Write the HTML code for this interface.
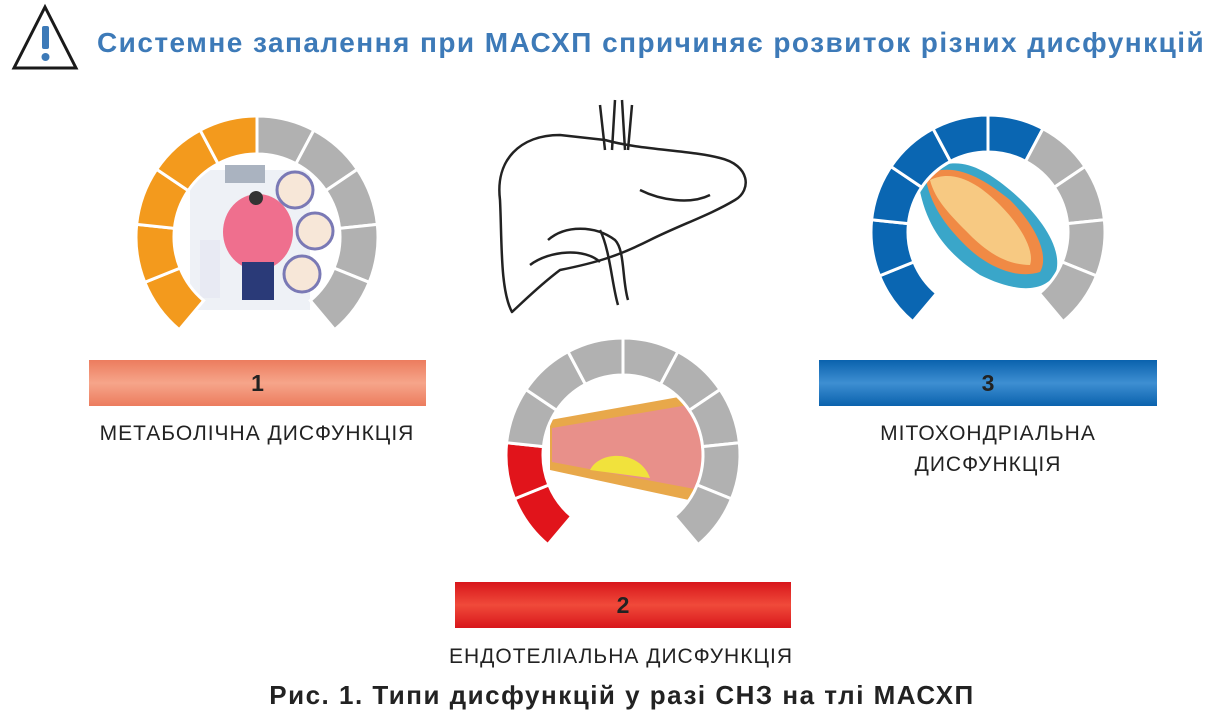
<!DOCTYPE html>
<html><head><meta charset="utf-8"><style>
body{margin:0;width:1214px;height:719px;background:#fff;overflow:hidden;font-family:"Liberation Sans",sans-serif;position:relative}
.t{position:absolute;white-space:nowrap}
.bar{position:absolute;height:46px;text-align:center;line-height:46px;font-weight:bold;font-size:23px;color:#222}
.lbl{position:absolute;text-align:center;font-size:21px;color:#222;line-height:31px;letter-spacing:1px}
</style></head><body>
<svg width="1214" height="719" style="position:absolute;left:0;top:0" id="s">
<polygon points="45,7 14,68 76,68" fill="none" stroke="#1a1a1a" stroke-width="3" stroke-linejoin="miter"/>
<rect x="42" y="26" width="7" height="23" fill="#3d7ab8" rx="2"/>
<circle cx="45.5" cy="57" r="4" fill="#3d7ab8"/>
<g fill="none" stroke="#222" stroke-width="2.5" stroke-linejoin="round">
<path d="M500,200 C495,160 520,135 560,135 L605,140 C640,150 690,150 720,158 C750,165 752,190 735,200 C710,215 680,225 650,240 C620,255 600,262 560,270 C540,285 525,300 512,312 C500,290 502,240 500,200 Z"/>
<path d="M600,105 L605,150 M615,100 L612,150 M622,100 L625,150 M632,105 L628,150"/>
<path d="M548,240 C565,225 595,225 615,240 C625,250 622,280 628,300 M600,230 C610,250 612,285 618,305 M530,265 C550,250 585,248 600,262"/>
<path d="M640,190 C660,200 690,205 710,195"/>
</g>
<rect x="190" y="170" width="120" height="140" fill="#eef1f6"/>
<rect x="225" y="165" width="40" height="18" fill="#aab3c0"/>
<circle cx="295" cy="190" r="18" fill="#f7e7d8" stroke="#7a79b5" stroke-width="3"/>
<circle cx="315" cy="231" r="18" fill="#f7e7d8" stroke="#7a79b5" stroke-width="3"/>
<circle cx="302" cy="274" r="18" fill="#f7e7d8" stroke="#7a79b5" stroke-width="3"/>
<ellipse cx="258" cy="232" rx="35" ry="38" fill="#ef6f8e"/>
<rect x="242" y="262" width="32" height="38" fill="#2a3a78"/>
<circle cx="256" cy="198" r="7" fill="#333"/>
<rect x="200" y="240" width="20" height="58" fill="#e8eaf3"/>
<path d="M550,420 L690,395 C720,400 730,460 712,505 L550,470 Z" fill="#e8a84a"/>
<path d="M552,428 L688,405 C708,415 712,460 700,490 L552,462 Z" fill="#e8908a"/>
<path d="M590,470 C600,450 640,450 650,478 Z" fill="#f1e23c"/>
<path d="M918,180 C950,150 980,165 1010,190 C1040,215 1065,250 1055,275 C1040,295 1010,290 980,275 C950,255 925,230 918,180 Z" fill="#3aa6c9"/>
<path d="M925,175 C955,160 985,180 1010,200 C1035,225 1050,255 1040,272 C1015,280 985,265 965,245 C945,225 930,205 925,175 Z" fill="#f08a45"/>
<path d="M930,180 C955,168 980,185 1000,205 C1020,225 1035,250 1030,265 C1005,265 985,250 970,235 C950,215 935,200 930,180 Z" fill="#f7c982"/>
<g id="g"></g>
</svg>
<div class="t" style="left:97px;top:27px;font-size:28px;font-weight:bold;color:#3d7ab8;letter-spacing:1.45px">Системне запалення при МАСХП спричиняє розвиток різних дисфункцій</div>
<div class="bar" style="left:89px;top:360px;width:337px;background:linear-gradient(#ec7c5e,#f6a58a 50%,#ec7c5e)">1</div>
<div class="bar" style="left:455px;top:582px;width:336px;background:linear-gradient(#d8161b,#f04a3a 50%,#d8161b)">2</div>
<div class="bar" style="left:819px;top:360px;width:338px;background:linear-gradient(#0a62ad,#3e8fd2 50%,#0a62ad)">3</div>
<div class="lbl" style="left:57px;top:418px;width:400px">МЕТАБОЛІЧНА ДИСФУНКЦІЯ</div>
<div class="lbl" style="left:788px;top:418px;width:400px">МІТОХОНДРІАЛЬНА<br>ДИСФУНКЦІЯ</div>
<div class="lbl" style="left:421px;top:641px;width:400px">ЕНДОТЕЛІАЛЬНА ДИСФУНКЦІЯ</div>
<div class="t" style="left:15px;width:1214px;text-align:center;top:680px;font-size:26px;font-weight:bold;color:#222;letter-spacing:1.5px">Рис. 1. Типи дисфункцій у разі СНЗ на тлі МАСХП</div>
<script>
function gauge(cx,cy,R,r,n,col){
 var g=document.getElementById('g'),s='';
 for(var i=0;i<10;i++){
  var a0=(-140+i*28)*Math.PI/180,a1=(-140+(i+1)*28)*Math.PI/180;
  var pts=[[R,a0],[R,a1],[r,a1],[r,a0]].map(function(p){return [cx+p[0]*Math.sin(p[1]),cy-p[0]*Math.cos(p[1])]});
  s+='<path d="M'+pts[0]+' A'+R+','+R+' 0 0 1 '+pts[1]+' L'+pts[2]+' A'+r+','+r+' 0 0 0 '+pts[3]+' Z" fill="'+(i<n?col:'#b1b1b1')+'" stroke="#fff" stroke-width="3"/>';
 }
 g.innerHTML+=s;
}
gauge(257,237,121,83,5,'#f39a1d');
gauge(623,455,117,80,2,'#e1141b');
gauge(988,232,117,80,6,'#0a66b2');
</script>
</body></html>
